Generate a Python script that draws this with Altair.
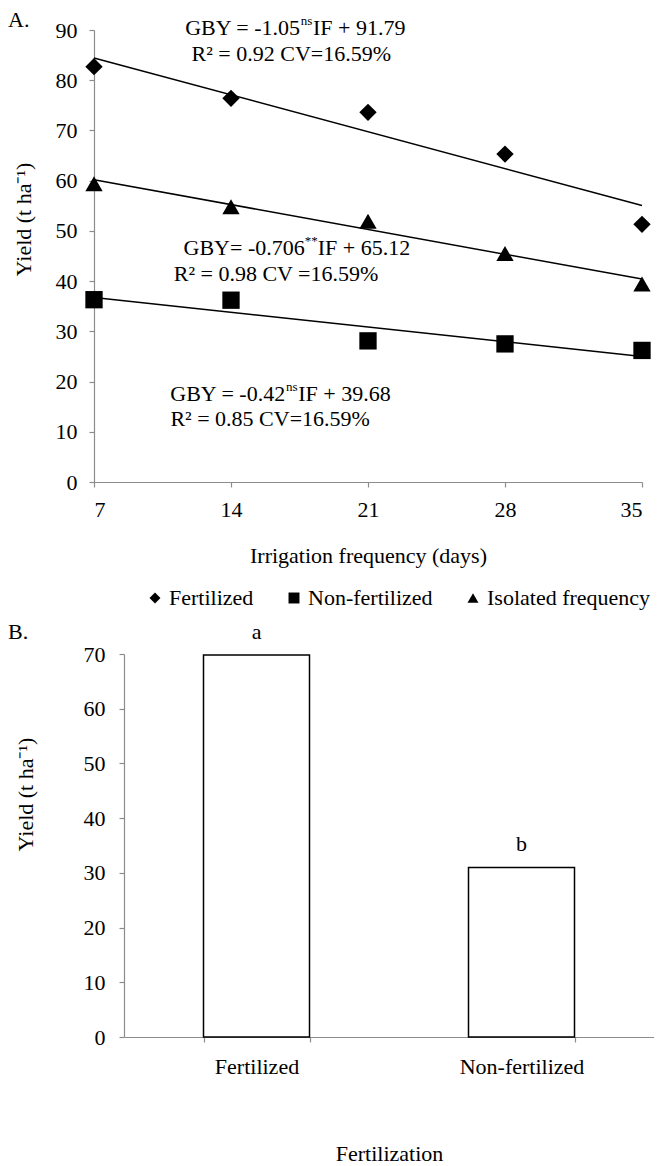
import altair as alt
import pandas as pd

FONT = "Liberation Serif"
FS = 22

# ---------------- data: panel A ----------------
days = [7, 14, 21, 28, 35]
series_names = ["Fertilized", "Non-fertilized", "Isolated frequency"]
fertilized = [82.7, 76.4, 73.6, 65.3, 51.3]
non_fertilized = [36.3, 36.2, 28.1, 27.5, 26.2]
isolated = [59.4, 54.8, 51.9, 45.5, 39.4]

slopes = [-1.05, -0.42, -0.706]
intercepts = [91.79, 39.68, 65.12]

eq_left = ["GBY = -1.05", "GBY = -0.42", "GBY= -0.706"]
eq_sup = ["ns", "ns", "**"]
eq_right = ["IF + 91.79", "IF + 39.68", "IF + 65.12"]
eq_r2 = ["R\u00b2 = 0.92 CV=16.59%", "R\u00b2 = 0.85 CV=16.59%", "R\u00b2 = 0.98 CV =16.59%"]
eq_x = [17.86, 17.1, 18.1]
eq_y = [90.3, 17.6, 46.5]
r2_x = [17.08, 16.0, 16.3]
r2_y = [85.3, 12.6, 41.4]

# ---------------- data: panel B ----------------
bar_categories = ["Fertilized", "Non-fertilized"]
bar_values = [69.8, 31.0]
bar_letters = ["a", "b"]

# ---------------- tables ----------------
values_by_series = [fertilized, non_fertilized, isolated]
pts = pd.DataFrame(
    [
        {"series": s, "days": d, "yield": v}
        for s, vals in zip(series_names, values_by_series)
        for d, v in zip(days, vals)
    ]
)
trend = pd.DataFrame(
    {
        "series": series_names,
        "slope": slopes,
        "intercept": intercepts,
        "x_start": [days[0]] * 3,
        "x_end": [days[-1]] * 3,
    }
)
eqs = pd.DataFrame(
    {
        "left": eq_left,
        "sup": eq_sup,
        "right": eq_right,
        "r2": eq_r2,
        "ex": eq_x,
        "ey": eq_y,
        "rx": r2_x,
        "ry": r2_y,
    }
)
bars_df = pd.DataFrame({"category": bar_categories, "value": bar_values, "letter": bar_letters})

AX_GRAY = "#8c8c8c"

x_scale = alt.Scale(domain=[7, 35], nice=False, zero=False)
y_scale = alt.Scale(domain=[0, 90], nice=False)

x_axis = alt.Axis(
    title="Irrigation frequency (days)",
    values=days,
    labelPadding=12,
    titlePadding=25,
    titleFontWeight="normal",
)
y_axis = alt.Axis(
    title="Yield (t ha\u207b\u00b9)",
    values=list(range(0, 91, 10)),
    labelPadding=12,
    titlePadding=20,
    titleY=189,
    titleFontWeight="normal",
)

X = alt.X("days:Q", scale=x_scale, axis=x_axis)
Y = alt.Y("yield:Q", scale=y_scale, axis=y_axis)

W1, H1 = 548, 452

points = (
    alt.Chart(pts)
    .mark_point(filled=True, opacity=1, color="black", strokeWidth=0, size=300)
    .encode(
        x=X,
        y=Y,
        shape=alt.Shape(
            "series:N",
            scale=alt.Scale(domain=series_names, range=["diamond", "square", "triangle-up"]),
            legend=alt.Legend(
                title=None,
                orient="none",
                legendX=50,
                legendY=557,
                direction="horizontal",
                symbolSize=120,
                symbolFillColor="black",
                symbolStrokeColor="black",
                symbolStrokeWidth=0,
                labelFontSize=FS,
                labelFont=FONT,
                labelColor="black",
                labelOffset=3,
                labelLimit=0,
                columnPadding=29,
            ),
        ),
    )
)

lines = (
    alt.Chart(trend)
    .transform_calculate(
        y_start="datum.slope * datum.x_start + datum.intercept",
        y_end="datum.slope * datum.x_end + datum.intercept",
    )
    .mark_rule(color="black", strokeWidth=1.5)
    .encode(
        x=alt.X("x_start:Q", scale=x_scale, axis=x_axis),
        x2="x_end:Q",
        y=alt.Y("y_start:Q", scale=y_scale, axis=y_axis),
        y2="y_end:Q",
    )
)

eq_base = alt.Chart(eqs)
TXT = dict(font=FONT, fontSize=FS, color="black", baseline="middle")
EX = alt.X("ex:Q", scale=x_scale, axis=x_axis)
EY = alt.Y("ey:Q", scale=y_scale, axis=y_axis)
eq_l = eq_base.mark_text(align="right", dx=-6.5, **TXT).encode(x=EX, y=EY, text="left:N")
eq_s = eq_base.mark_text(
    align="center", dy=-7, font=FONT, fontSize=13, color="black", baseline="middle"
).encode(x=EX, y=EY, text="sup:N")
eq_r = eq_base.mark_text(align="left", dx=6.5, **TXT).encode(x=EX, y=EY, text="right:N")
eq_2 = eq_base.mark_text(align="center", **TXT).encode(
    x=alt.X("rx:Q", scale=x_scale, axis=x_axis),
    y=alt.Y("ry:Q", scale=y_scale, axis=y_axis),
    text="r2:N",
)

panel_a_label = (
    alt.Chart(pd.DataFrame({"lab": ["A."]}))
    .mark_text(align="left", **TXT)
    .encode(x=alt.value(-86), y=alt.value(-10.5), text="lab:N")
)

top = alt.layer(points, lines, eq_l, eq_s, eq_r, eq_2, panel_a_label).properties(width=W1, height=H1)

# ---------------- panel B ----------------
SHIFT = 30
W2, H2 = 560, 383
bx = alt.X(
    "category:N",
    sort=bar_categories,
    scale=alt.Scale(paddingInner=0.6, paddingOuter=0.3, range=[SHIFT, W2]),
    axis=alt.Axis(
        title="Fertilization",
        labelAngle=0,
        tickBand="extent",
        labelPadding=14,
        titlePadding=66,
        titleFontWeight="normal",
    ),
)
by = alt.Y(
    "value:Q",
    scale=alt.Scale(domain=[0, 70], nice=False),
    axis=alt.Axis(
        title="Yield (t ha\u207b\u00b9)",
        values=list(range(0, 71, 10)),
        labelPadding=14,
        titlePadding=46,
        titleY=140,
        offset=-SHIFT,
        titleFontWeight="normal",
    ),
)
bars = alt.Chart(bars_df).mark_bar(fill="white", stroke="black", strokeWidth=1.5).encode(x=bx, y=by)
letters = alt.Chart(bars_df).mark_text(dy=-23, **TXT).encode(x=bx, y=by, text="letter:N")
panel_b_label = (
    alt.Chart(pd.DataFrame({"lab": ["B."]}))
    .mark_text(align="left", **TXT)
    .encode(x=alt.value(-86), y=alt.value(-22), text="lab:N")
)
bottom = alt.layer(bars, letters, panel_b_label).properties(width=W2, height=H2)

chart = (
    alt.vconcat(top, bottom, spacing=55)
    .properties(padding={"left": 0, "top": 0, "right": 0, "bottom": 0})
    .configure_view(stroke=None)
    .configure_axis(
        grid=False,
        domainColor=AX_GRAY,
        tickColor=AX_GRAY,
        tickSize=5,
        domainWidth=1.2,
        tickWidth=1.2,
        labelFont=FONT,
        titleFont=FONT,
        labelFontSize=FS,
        titleFontSize=FS,
        titleFontWeight="normal",
        labelColor="black",
        titleColor="black",
    )
)

chart.save("out.html", embed_options={"renderer": "svg", "actions": False})
